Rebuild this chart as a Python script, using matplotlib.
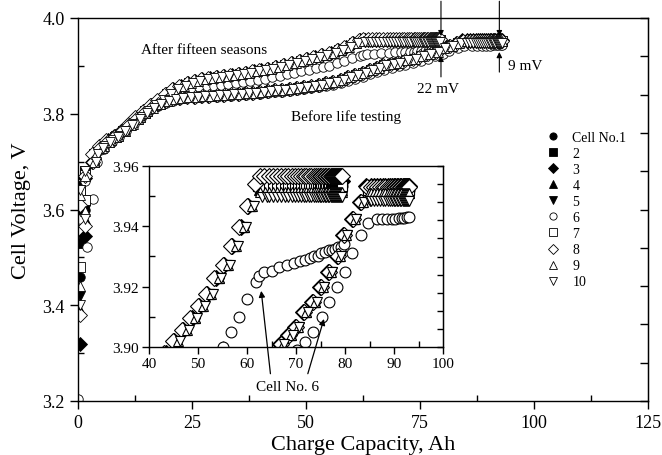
import numpy as np
import matplotlib
matplotlib.use('Agg')
import matplotlib.pyplot as plt
from matplotlib.lines import Line2D
from matplotlib.ticker import MultipleLocator, FormatStrFormatter

plt.rcParams['font.family'] = ['Liberation Serif', 'DejaVu Serif']

# ---------------------------------------------------------------
# data
# ---------------------------------------------------------------
cells   = ['Cell No.1', '2', '3', '4', '5', '6', '7', '8', '9', '10']
markers = ['o', 's', 'D', '^', 'v', 'o', 's', 'D', '^', 'v']
filled  = [True, True, True, True, True, False, False, False, False, False]

start_cap = [0.4, 1.5]

# after fifteen seasons: leading curve (cell 8) and its CV plateau
after_cap = [3.0, 4.6, 6.2, 7.8, 9.4, 11.0, 12.6, 14.2, 15.8, 17.4, 19.0, 20.6,
             22.2, 23.8, 25.4, 27.0, 28.6, 30.2, 31.8, 33.4, 35.0, 36.6, 38.2,
             39.8, 41.4, 43.1, 44.9, 46.7, 48.4, 50.0, 51.6, 53.3, 55.1, 56.7,
             58.4, 60.0, 61.6, 62.6]
after_v = [3.715, 3.733, 3.745, 3.754, 3.765, 3.779, 3.793, 3.806, 3.818, 3.829,
           3.841, 3.851, 3.858, 3.864, 3.868, 3.872, 3.875, 3.877, 3.879, 3.881,
           3.883, 3.886, 3.889, 3.891, 3.894, 3.898, 3.902, 3.9056, 3.9096,
           3.9136, 3.9176, 3.9229, 3.9272, 3.9335, 3.9398, 3.9468, 3.954, 3.9567]
after_plat_cap = [63.5, 64.4, 65.3, 66.1, 66.9, 67.7, 68.4, 69.1, 69.8, 70.4,
                  71.0, 71.6, 72.1, 72.6, 73.1, 73.6, 74.0, 74.4, 74.8, 75.2,
                  75.6, 75.9, 76.2, 76.5, 76.8, 77.1, 77.4, 77.6, 77.8, 78.0,
                  78.2, 78.4, 78.6, 78.8, 79.0, 79.2, 79.4]
after_lag   = [0.5, 0.6, 0.3, 0.9, 1.1, 0.0, 0.7, 0.0, 1.0, 1.4]
after_plat  = [3.9535, 3.9535, 3.955, 3.952, 3.951, 0.0, 3.9535, 3.9567, 3.9515, 3.9497]
after_s1    = [3.46, 3.53, 3.32, 3.39, 3.42, 0.0, 3.48, 3.38, 3.44, 3.40]
after_s2    = [3.60, 3.62, 3.545, 3.58, 3.60, 0.0, 3.62, 3.566, 3.597, 3.58]

# before life testing: leading curve (cell 3) and its CV plateau
before_cap = [3.0, 4.6, 6.2, 7.8, 9.4, 11.0, 12.6, 14.2, 15.8, 17.4, 19.0, 20.6,
              22.2, 23.8, 25.4, 27.0, 28.6, 30.2, 31.8, 33.4, 35.0, 36.6, 38.2,
              39.8, 41.4, 43.0, 44.6, 46.2, 47.8, 49.4, 51.0, 52.6, 54.2, 55.8,
              57.4, 59.0, 60.6, 62.2, 63.8, 65.3, 66.7, 68.4, 69.8, 71.5, 73.3,
              74.9, 76.5, 78.3, 79.6, 81.4, 83.0, 84.3]
before_v = [3.700, 3.728, 3.742, 3.752, 3.763, 3.776, 3.789, 3.801, 3.811, 3.820,
            3.826, 3.830, 3.833, 3.835, 3.836, 3.837, 3.838, 3.839, 3.840, 3.841,
            3.842, 3.843, 3.844, 3.846, 3.847, 3.849, 3.850, 3.852, 3.854, 3.856,
            3.858, 3.861, 3.864, 3.867, 3.871, 3.876, 3.881, 3.886, 3.891, 3.896,
            3.901, 3.904, 3.9066, 3.9116, 3.915, 3.920, 3.925, 3.930, 3.937,
            3.9424, 3.948, 3.9547]
before_plat_cap = [85.3, 86.0, 86.6, 87.2, 87.7, 88.2, 88.7, 89.1, 89.5, 89.9,
                   90.3, 90.6, 90.9, 91.2, 91.5, 91.8, 92.0, 92.2, 92.4, 92.6,
                   92.8, 93.0]
before_lag  = [0.3, 0.4, 0.0, 0.5, 0.8, 0.0, 0.4, 0.2, 0.6, 0.9]
before_plat = [3.952, 3.952, 3.9535, 3.951, 3.9495, 0.0, 3.952, 3.953, 3.951, 3.9485]
before_s1   = [3.62, 3.64, 3.60, 3.63, 3.65, 0.0, 3.64, 3.61, 3.63, 3.64]
before_s2   = [3.67, 3.68, 3.665, 3.67, 3.679, 0.0, 3.673, 3.67, 3.67, 3.68]

# cell 6 on its own
c6_after_cap = [0.0, 1.9, 3.2, 4.2, 5.8, 7.4, 9.0, 10.6, 12.2, 13.8, 15.4, 17.0,
                18.6, 20.2, 21.8, 23.4, 25.0, 26.6, 28.2, 29.8, 31.4, 33.0, 34.6,
                36.2, 37.8, 39.4, 41.0, 42.6, 44.2, 45.8, 47.4, 49.0, 50.6, 52.2,
                53.7, 55.1, 56.7, 58.4, 60.0, 61.8, 62.5, 63.4, 65.0, 66.5, 68.1,
                69.6, 70.8, 71.8, 72.8, 73.6, 74.4, 75.2, 76.0, 76.7, 77.4, 78.0,
                78.6, 79.2, 79.8]
c6_after_v = [3.205, 3.522, 3.622, 3.700, 3.727, 3.742, 3.752, 3.764, 3.778, 3.792,
              3.804, 3.816, 3.827, 3.836, 3.843, 3.848, 3.852, 3.855, 3.857, 3.859,
              3.861, 3.863, 3.865, 3.867, 3.869, 3.871, 3.873, 3.876, 3.879, 3.882,
              3.886, 3.889, 3.892, 3.895, 3.898, 3.900, 3.905, 3.910, 3.916, 3.9216,
              3.9236, 3.925, 3.9253, 3.9266, 3.9273, 3.928, 3.9285, 3.929, 3.9295,
              3.930, 3.9303, 3.931, 3.9315, 3.932, 3.9322, 3.9326, 3.933, 3.9333,
              3.934]
c6_before_cap = [0.4, 1.5, 3.2, 4.8, 6.4, 8.0, 9.6, 11.2, 12.8, 14.4, 16.0, 17.6,
                 19.2, 20.8, 22.4, 24.0, 25.6, 27.2, 28.8, 30.4, 32.0, 33.6, 35.2,
                 36.8, 38.4, 40.0, 41.6, 43.2, 44.8, 46.4, 48.0, 49.6, 51.2, 52.8,
                 54.4, 56.0, 57.6, 59.2, 60.8, 62.4, 64.0, 65.6, 67.2, 68.8, 70.3,
                 71.8, 73.5, 75.3, 76.7, 78.3, 80.0, 81.4, 83.3, 84.7, 86.5, 87.6,
                 88.6, 89.5, 90.3, 91.0, 91.6, 92.1, 92.7, 93.0]
c6_before_v = [3.580, 3.660, 3.700, 3.725, 3.740, 3.750, 3.761, 3.774, 3.787, 3.799,
               3.809, 3.817, 3.823, 3.827, 3.830, 3.832, 3.833, 3.834, 3.835, 3.836,
               3.837, 3.838, 3.839, 3.840, 3.841, 3.842, 3.843, 3.845, 3.846, 3.848,
               3.849, 3.851, 3.853, 3.855, 3.858, 3.861, 3.864, 3.868, 3.872, 3.877,
               3.882, 3.887, 3.892, 3.896, 3.899, 3.9017, 3.905, 3.910, 3.915, 3.920,
               3.925, 3.931, 3.937, 3.941, 3.9423, 3.9423, 3.9424, 3.9425, 3.9425,
               3.9426, 3.9427, 3.9428, 3.943, 3.943]


def cell_curve(s1, s2, cap, v, lag, plat, plat_cap):
    """start points + shifted shared ramp (capped at the cell's plateau) + plateau"""
    c = np.array(cap) + lag
    vv = np.minimum(np.array(v), plat)
    pc = [p for p in plat_cap if p > c[-1]]
    x = list(start_cap) + list(c) + pc
    y = [s1, s2] + list(vv) + [plat] * len(pc)
    return x, y


curves = []
for i in range(10):
    if i == 5:
        curves.append((c6_after_cap, c6_after_v))
        curves.append((c6_before_cap, c6_before_v))
    else:
        curves.append(cell_curve(after_s1[i], after_s2[i], after_cap, after_v,
                                 after_lag[i], after_plat[i], after_plat_cap))
        curves.append(cell_curve(before_s1[i], before_s2[i], before_cap, before_v,
                                 before_lag[i], before_plat[i], before_plat_cap))


def draw_cells(a, ms, mew):
    for i in range(10):
        fc = 'k' if filled[i] else 'white'
        for x, y in curves[2 * i:2 * i + 2]:
            a.plot(x, y, ls='none', marker=markers[i], ms=ms, mfc=fc,
                   mec='k', mew=mew)


# ---------------------------------------------------------------
# main axes
# ---------------------------------------------------------------
fig = plt.figure(figsize=(6.62, 4.56), dpi=100)
ax = fig.add_axes([78 / 662, 54 / 456, 570 / 662, 383 / 456])

draw_cells(ax, 6.8, 0.6)

ax.set_xlim(0, 125)
ax.set_ylim(3.2, 4.0)
ax.xaxis.set_major_locator(MultipleLocator(25))
ax.xaxis.set_minor_locator(MultipleLocator(12.5))
ax.yaxis.set_major_locator(MultipleLocator(0.2))
ax.yaxis.set_minor_locator(MultipleLocator(0.1))
ax.yaxis.set_major_formatter(FormatStrFormatter('%.1f'))
ax.tick_params(which='major', direction='out', length=6, width=1, labelsize=13)
ax.tick_params(which='minor', direction='in', length=4, width=1)
for s in ax.spines.values():
    s.set_linewidth(1.0)

sec = ax.secondary_yaxis('right')
sec.set_yticks(np.linspace(3.2, 4.0, 11))
sec.tick_params(direction='in', length=6, width=1, labelright=False)
sec.yaxis.set_minor_locator(plt.NullLocator())

ax.set_xlabel('Charge Capacity, Ah', fontsize=16, labelpad=3)
ax.set_ylabel('Cell Voltage, V', fontsize=16, labelpad=8)

ax.text(27.6, 3.935, 'After fifteen seasons', ha='center', va='center', fontsize=11)
ax.text(58.7, 3.795, 'Before life testing', ha='center', va='center', fontsize=11)
ax.text(78.9, 3.853, '22 mV', ha='center', va='center', fontsize=11)
ax.text(94.3, 3.900, '9 mV', ha='left', va='center', fontsize=11)

arw = dict(arrowstyle='-|>', color='k', lw=0.8, mutation_scale=8,
           shrinkA=0, shrinkB=0)
for xa, top_tip, bot_from, bot_tip in [(79.6, 3.962, 3.877, 3.921),
                                       (92.4, 3.962, 3.887, 3.929)]:
    ax.annotate('', xy=(xa, top_tip), xytext=(xa, 4.035), arrowprops=arw,
                annotation_clip=False)
    ax.annotate('', xy=(xa, bot_tip), xytext=(xa, bot_from), arrowprops=arw,
                annotation_clip=False)

handles = [Line2D([], [], ls='none', marker=m, ms=5.2, mfc='k' if f else 'white',
                  mec='k', mew=0.6) for m, f in zip(markers, filled)]
ax.legend(handles, cells, loc='upper left',
          bbox_to_anchor=(546 / 662, (456 - 132) / 456),
          bbox_transform=fig.transFigure, frameon=False, fontsize=10,
          handlelength=1.0, handletextpad=0.9, labelspacing=0.22,
          borderpad=0, borderaxespad=0)

# ---------------------------------------------------------------
# inset
# ---------------------------------------------------------------
axin = fig.add_axes([149 / 662, 108 / 456, 294 / 662, 181 / 456])
draw_cells(axin, 7.8, 0.8)
axin.set_xlim(40, 100)
axin.set_ylim(3.90, 3.96)
axin.xaxis.set_major_locator(MultipleLocator(10))
axin.xaxis.set_minor_locator(MultipleLocator(5))
axin.yaxis.set_major_locator(MultipleLocator(0.02))
axin.yaxis.set_minor_locator(MultipleLocator(0.01))
axin.yaxis.set_major_formatter(FormatStrFormatter('%.2f'))
axin.tick_params(which='major', direction='out', length=5, width=1, labelsize=11, pad=2)
axin.tick_params(which='minor', direction='in', length=4, width=1)
for s in axin.spines.values():
    s.set_linewidth(1.0)
sec2 = axin.secondary_yaxis('right')
sec2.set_yticks(np.linspace(3.90, 3.96, 11))
sec2.tick_params(direction='in', length=4, width=1, labelright=False)
sec2.yaxis.set_minor_locator(plt.NullLocator())

ax.text(45.9, 3.230, 'Cell No. 6', ha='center', va='center', fontsize=11)
arw2 = dict(arrowstyle='-|>', color='k', lw=0.9, mutation_scale=9,
            shrinkA=0, shrinkB=0)
axin.annotate('', xy=(62.9, 3.9186), xytext=(42.2, 3.257),
              textcoords=ax.transData, arrowprops=arw2, annotation_clip=False)
axin.annotate('', xy=(75.7, 3.9093), xytext=(50.4, 3.257),
              textcoords=ax.transData, arrowprops=arw2, annotation_clip=False)

fig.savefig('out.png', dpi=100)
